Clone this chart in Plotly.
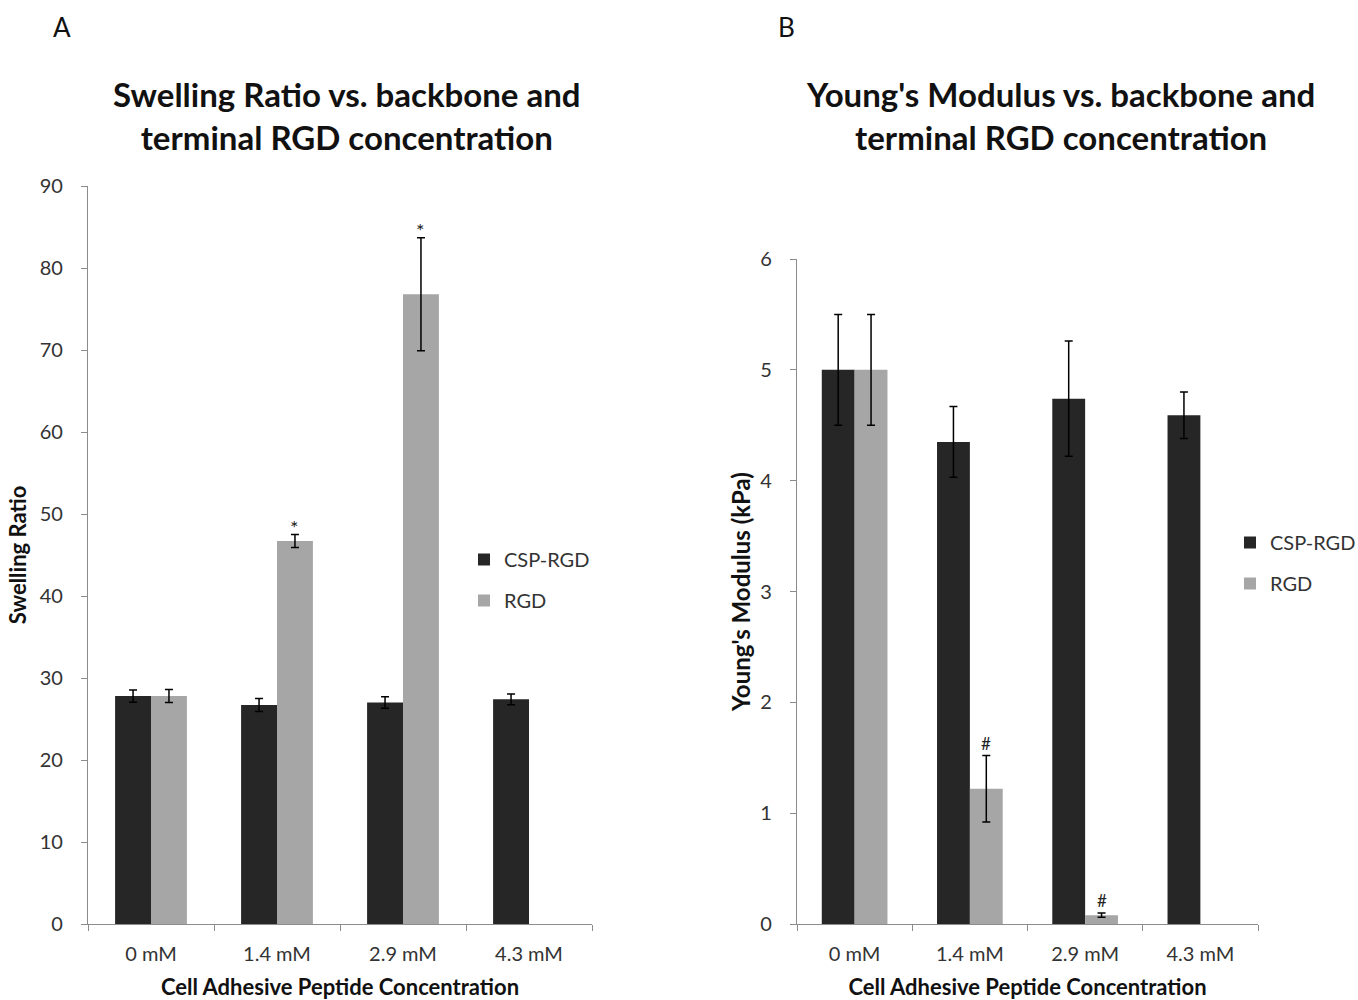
import plotly.graph_objects as go

categories = ["0 mM", "1.4 mM", "2.9 mM", "4.3 mM"]

# Panel A: Swelling ratio
swell_csp = [27.8, 26.7, 27.0, 27.4]
swell_csp_err = [0.75, 0.8, 0.7, 0.65]
swell_rgd = [27.8, 46.7, 76.8, None]
swell_rgd_err = [0.8, 0.8, 6.9, None]
swell_marks = ["", "*", "*", ""]

# Panel B: Young's modulus
mod_csp = [5.0, 4.35, 4.74, 4.59]
mod_csp_err = [0.5, 0.32, 0.52, 0.21]
mod_rgd = [5.0, 1.22, 0.08, None]
mod_rgd_err = [0.5, 0.30, 0.02, None]
mod_marks = ["", "#", "#", ""]

DARK = "#262626"
LIGHT = "#a6a6a6"
AXIS = "#8c8c8c"
FONT = "Lato"
W, H = 1358, 1000
OFF = 0  # body margin removed via post_script

def px(x):
    return (x - OFF) / W

def py(y):
    return 1 - (y - OFF) / H

# plot areas in page pixels
A_x0, A_x1, A_top, BOT = 88, 592, 186, 924
B_x0, B_x1, B_top = 797, 1258, 259

fig = go.Figure()

err_style = dict(type="data", color="black", thickness=1.5, width=4, visible=True)

def add_pair(csp, csp_err, rgd, rgd_err, xa, ya, legend):
    fig.add_trace(go.Bar(x=categories, y=csp, name="CSP-RGD", marker_color=DARK,
                         marker_line_width=0,
                         error_y=dict(array=csp_err, **err_style),
                         xaxis=xa, yaxis=ya, legend=legend, legendgroup=legend + "a"))
    fig.add_trace(go.Bar(x=categories, y=rgd, name="RGD", marker_color=LIGHT,
                         marker_line_width=0,
                         error_y=dict(array=rgd_err, **err_style),
                         xaxis=xa, yaxis=ya, legend=legend, legendgroup=legend + "b"))

add_pair(swell_csp, swell_csp_err, swell_rgd, swell_rgd_err, "x", "y", "legend")
add_pair(mod_csp, mod_csp_err, mod_rgd, mod_rgd_err, "x2", "y2", "legend2")

BARGAP = 0.43

def xaxis(x0, x1):
    return dict(domain=[px(x0), px(x1)], type="category", showline=True, linecolor=AXIS,
                linewidth=1.3, ticks="outside", ticklen=6, tickcolor=AXIS, tickson="boundaries",
                showgrid=False, zeroline=False, ticklabelstandoff=12, automargin=False,
                tickfont=dict(family=FONT, size=20, color="#333"),
                title=dict(text="<b>Cell Adhesive Peptide Concentration</b>",
                           font=dict(family=FONT, size=22, color="#111"), standoff=21))

def yaxis(top, rng, dtick, title, anchor, size, standoff):
    return dict(domain=[py(BOT), py(top)], range=rng, dtick=dtick, showline=True,
                linecolor=AXIS, linewidth=1.3, ticks="outside", ticklen=6, tickcolor=AXIS,
                showgrid=False, zeroline=False, ticklabelstandoff=14, anchor=anchor,
                automargin=False,
                tickfont=dict(family=FONT, size=20, color="#333"),
                title=dict(text="<b>" + title + "</b>",
                           font=dict(family=FONT, size=size, color="#111"), standoff=standoff))

legend_common = dict(font=dict(family=FONT, size=20, color="#333"), bgcolor="rgba(0,0,0,0)",
                     tracegroupgap=12, itemwidth=30, xanchor="left", yanchor="top")

fig.update_layout(
    width=W, height=H, margin=dict(l=0, r=0, t=0, b=0, autoexpand=False),
    paper_bgcolor="white", plot_bgcolor="white",
    barmode="group", bargap=BARGAP, bargroupgap=0,
    xaxis=xaxis(A_x0, A_x1),
    yaxis=yaxis(A_top, [0, 90], 10, "Swelling Ratio", "x", 22, 6),
    xaxis2=dict(xaxis(B_x0, B_x1), anchor="y2"),
    yaxis2=yaxis(B_top, [0, 6], 1, "Young's Modulus (kPa)", "x2", 24, 2),
    legend=dict(legend_common, x=px(464), y=py(540), traceorder="grouped"),
    legend2=dict(legend_common, x=px(1230), y=py(523), traceorder="grouped"),
    showlegend=True,
)

annotations = []
# significance marks above RGD bars, offset by quarter of group width
def add_marks(vals, errs, marks, xref, yref, x0, x1, size, yshift):
    cat_px = (x1 - x0) / len(categories)
    shift = cat_px * (1 - BARGAP) / 4
    for c, v, e, m in zip(categories, vals, errs, marks):
        if m and v is not None:
            annotations.append(dict(x=c, y=v + e, xref=xref, yref=yref, text=m, showarrow=False,
                                    xshift=shift, yanchor="bottom", yshift=yshift,
                                    font=dict(family=FONT, size=size, color="#222")))

add_marks(swell_rgd, swell_rgd_err, swell_marks, "x", "y", A_x0, A_x1, 20, -6)
add_marks(mod_rgd, mod_rgd_err, mod_marks, "x2", "y2", B_x0, B_x1, 17, 0)

# titles and panel letters
for cx, title in [((112 + 582) / 2, "Swelling Ratio vs. backbone and<br>terminal RGD concentration"),
                  ((804 + 1316) / 2, "Young's Modulus vs. backbone and<br>terminal RGD concentration")]:
    annotations.append(dict(x=px(cx), y=py(72), xref="paper", yref="paper", text="<b>" + title + "</b>",
                            showarrow=False, xanchor="center", yanchor="top",
                            font=dict(family=FONT, size=33, color="#111")))
for cx, letter in [(62, "A"), (786, "B")]:
    annotations.append(dict(x=px(cx), y=py(27), xref="paper", yref="paper", text=letter,
                            showarrow=False, xanchor="center", yanchor="middle",
                            font=dict(family=FONT, size=26, color="#111")))

fig.update_layout(annotations=annotations)
fig.write_html("out.html", config={"displayModeBar": False},
               post_script="document.body.style.margin='0';document.body.style.overflow='hidden';")
